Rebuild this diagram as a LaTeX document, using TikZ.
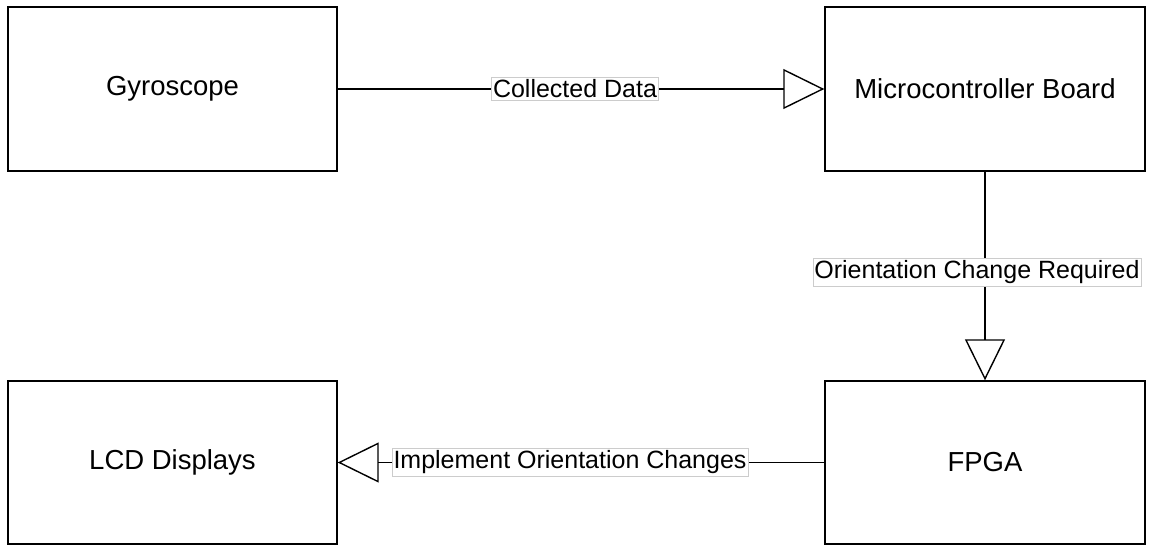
\documentclass[tikz,border=0pt]{standalone}
\usepackage{fontspec}
\setmainfont{Liberation Sans}
\usetikzlibrary{arrows.meta}

\begin{document}
\begin{tikzpicture}[x=1pt,y=-1pt,line width=1.4pt,
  block/.style={draw,rectangle,inner sep=0pt,font=\fontsize{27.5}{32}\selectfont},
  flowlabel/.style={fill=white,draw=black!20,line width=0.6pt,inner xsep=1.5pt,inner ysep=2.5pt,
    font=\fontsize{25}{29}\selectfont},
  flowarrow/.style={-{Triangle[open,length=41pt,width=40pt]}}]

\useasboundingbox (0,0) rectangle (1152,546);

\node[block,minimum width=329pt,minimum height=164pt] (gyro) at (172.5,89) {Gyroscope};
\node[block,minimum width=320pt,minimum height=164pt] (mcu) at (985,89) {Microcontroller Board};
\node[block,minimum width=329pt,minimum height=163pt] (lcd) at (172.5,462.5) {LCD Displays};
\node[block,minimum width=320pt,minimum height=163pt] (fpga) at (985,462.5) {FPGA};

\draw[flowarrow] (gyro) -- node[flowlabel,xshift=-6pt] (lbldata) {Collected Data} (mcu);
\draw[flowarrow] (mcu) -- node[flowlabel,xshift=-8pt,yshift=4pt] (lblreq) {Orientation Change Required} (fpga);
\draw[flowarrow] (fpga) -- node[flowlabel,xshift=-11pt] (lblimpl) {Implement Orientation Changes} (lcd);

\end{tikzpicture}
\end{document}
